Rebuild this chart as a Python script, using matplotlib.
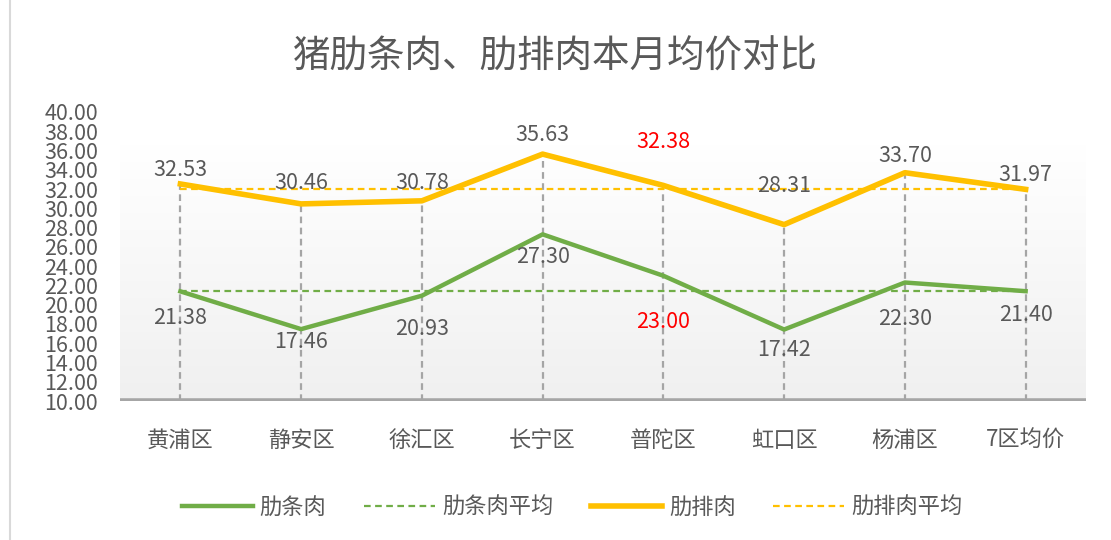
import numpy as np
import matplotlib
matplotlib.use("Agg")
import matplotlib.pyplot as plt
from matplotlib.lines import Line2D

plt.rcParams["font.family"] = ["Noto Sans CJK SC", "DejaVu Sans"]

# 数据
districts = ["黄浦区", "静安区", "徐汇区", "长宁区", "普陀区", "虹口区", "杨浦区", "7区均价"]
leitiao = [21.38, 17.46, 20.93, 27.30, 23.00, 17.42, 22.30, 21.40]
leipai = [32.53, 30.46, 30.78, 35.63, 32.38, 28.31, 33.70, 31.97]
leitiao_avg = 21.40
leipai_avg = 31.97
highlight = "普陀区"

# 数据标签偏移 (points)
leipai_dy = [10, 15, 13, 14, 31, 28, 12, 10]
leitiao_dy = [-19, -9, -24, -16, -33, -15, -26, -17]

GREEN = "#70AD47"
GOLD = "#FFC000"
GRAY_TXT = "#595959"

fig = plt.figure(figsize=(11.11, 5.4), dpi=100)
ax = fig.add_axes([120 / 1111, 1 - 401 / 540, (1086 - 120) / 1111, (401 - 112) / 540])

x = np.arange(len(districts))
ax.set_xlim(-0.5, len(districts) - 0.5)
ax.set_ylim(10, 40)

# 背景渐变
grad = np.linspace(0, 1, 256).reshape(-1, 1)
ax.imshow(grad, extent=(-0.5, len(districts) - 0.5, 10, 36.6), aspect="auto",
          cmap=matplotlib.colors.LinearSegmentedColormap.from_list("g", ["#F0F0F0", "#FFFFFF"]),
          origin="lower", zorder=0)

# 垂直线
for xi, v in zip(x, leipai):
    ax.plot([xi, xi], [10, v], color="#A5A5A5", lw=1.6, ls=(0, (3, 2)), zorder=1)

ax.plot([x[0], x[-1]], [leitiao_avg] * 2, color=GREEN, lw=1.6, ls=(0, (3, 2)), zorder=2)
ax.plot([x[0], x[-1]], [leipai_avg] * 2, color=GOLD, lw=1.6, ls=(0, (3, 2)), zorder=2)
ax.plot(x, leitiao, color=GREEN, lw=3.2, zorder=3, solid_joinstyle="round")
ax.plot(x, leipai, color=GOLD, lw=4, zorder=3, solid_joinstyle="round")

for xi, name, v, dy in zip(x, districts, leipai, leipai_dy):
    c = "red" if name == highlight else GRAY_TXT
    ax.annotate(f"{v:.2f}", (xi, v), xytext=(0, dy), textcoords="offset points",
                ha="center", va="center", fontsize=15.5, color=c, zorder=5)
for xi, name, v, dy in zip(x, districts, leitiao, leitiao_dy):
    c = "red" if name == highlight else GRAY_TXT
    ax.annotate(f"{v:.2f}", (xi, v), xytext=(0, dy), textcoords="offset points",
                ha="center", va="center", fontsize=15.5, color=c, zorder=5)

ax.axhline(10, color="#A6A6A6", lw=4, zorder=4)
for s in ax.spines.values():
    s.set_visible(False)
ax.set_yticks(np.arange(10, 41, 2))
ax.set_yticklabels([f"{t:.2f}" for t in np.arange(10, 41, 2)])
ax.set_xticks(x)
ax.set_xticklabels(districts)
ax.tick_params(axis="y", length=0, pad=16, labelsize=15.5, labelcolor=GRAY_TXT)
ax.tick_params(axis="x", length=0, pad=20, labelsize=16, labelcolor=GRAY_TXT)

fig.text(0.5, 1 - 57 / 540, "猪肋条肉、肋排肉本月均价对比", ha="center", va="center",
         fontsize=27, color=GRAY_TXT)

handles = [Line2D([], [], color=GREEN, lw=3.2),
           Line2D([], [], color=GREEN, lw=1.6, ls=(0, (3, 2))),
           Line2D([], [], color=GOLD, lw=4),
           Line2D([], [], color=GOLD, lw=1.6, ls=(0, (3, 2)))]
fig.legend(handles, ["肋条肉", "肋条肉平均", "肋排肉", "肋排肉平均"], loc="center",
           bbox_to_anchor=(0.515, 1 - 507 / 540), ncol=4, frameon=False, fontsize=16,
           labelcolor=GRAY_TXT, handlelength=3.2, columnspacing=1.7, handletextpad=0.3)

fig.add_artist(Line2D([10 / 1111, 10 / 1111], [0, 1], color="#D9D9D9", lw=1.5,
                      transform=fig.transFigure))

fig.savefig("out.png", dpi=100, facecolor="white")
